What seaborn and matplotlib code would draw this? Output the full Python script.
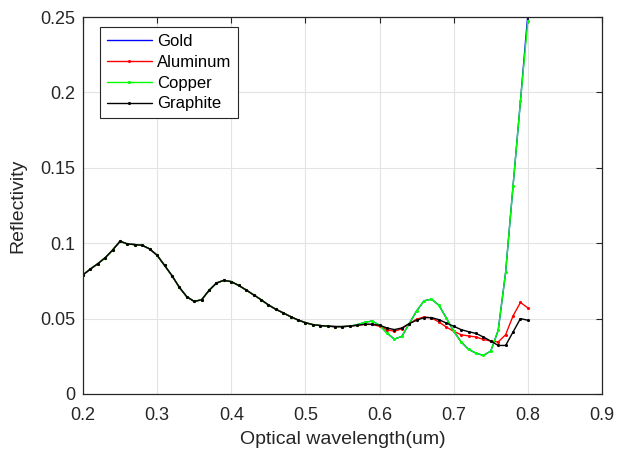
import numpy as np
import pandas as pd
import matplotlib
matplotlib.use("Agg")
import matplotlib.pyplot as plt
import seaborn as sns

# wavelength grid (um)
wavelength = np.round(np.arange(0.20, 0.805, 0.01), 2)

# part shared by all four curves, 0.20 .. 0.56 um
shared = [0.0790, 0.0829, 0.0864, 0.0904, 0.0955, 0.1013, 0.0995, 0.0991, 0.0986, 0.0962,
          0.0920, 0.0853, 0.0785, 0.0707, 0.0645, 0.0614, 0.0625, 0.0687, 0.0736, 0.0754,
          0.0745, 0.0720, 0.0690, 0.0658, 0.0626, 0.0591, 0.0562, 0.0538, 0.0513, 0.0491,
          0.0473, 0.0460, 0.0454, 0.0450, 0.0447, 0.0447, 0.0450]

# 0.57 .. 0.80 um
gold_tail = [0.0460, 0.0475, 0.0484, 0.0456, 0.0404, 0.0364, 0.0382, 0.0467, 0.0551, 0.0618,
             0.0629, 0.0589, 0.0504, 0.0416, 0.0345, 0.0296, 0.0271, 0.0256, 0.0285, 0.0422,
             0.0807, 0.1379, 0.1942, 0.2520]
aluminum_tail = [0.0456, 0.0462, 0.0462, 0.0449, 0.0427, 0.0416, 0.0433, 0.0467, 0.0496, 0.0511,
                 0.0504, 0.0478, 0.0444, 0.0416, 0.0393, 0.0385, 0.0378, 0.0362, 0.0351, 0.0345,
                 0.0393, 0.0518, 0.0607, 0.0571]
copper_tail = [0.0460, 0.0475, 0.0484, 0.0456, 0.0404, 0.0364, 0.0382, 0.0467, 0.0551, 0.0618,
               0.0629, 0.0589, 0.0504, 0.0416, 0.0345, 0.0296, 0.0271, 0.0256, 0.0285, 0.0422,
               0.0807, 0.1379, 0.1942, 0.2474]
graphite_tail = [0.0456, 0.0462, 0.0462, 0.0456, 0.0438, 0.0427, 0.0438, 0.0467, 0.0489, 0.0507,
                 0.0507, 0.0493, 0.0471, 0.0449, 0.0427, 0.0413, 0.0402, 0.0378, 0.0351, 0.0322,
                 0.0322, 0.0411, 0.0500, 0.0489]

materials = ['Gold', 'Aluminum', 'Copper', 'Graphite']
tails = [gold_tail, aluminum_tail, copper_tail, graphite_tail]
colors = ['#0000ff', '#ff0000', '#00ff00', '#000000']
markers = ['', '.', '.', '.']

sns.set_style("white")
plt.rcParams['font.family'] = ['Liberation Sans', 'DejaVu Sans']
text_color = '#262626'

fig = plt.figure(figsize=(6.17, 4.49), dpi=100)
ax = fig.add_axes([0.1345, 0.1225, 0.8412, 0.8395])

for name, tail, color, marker in zip(materials, tails, colors, markers):
    df = pd.DataFrame({'wavelength': wavelength, 'reflectivity': shared + tail})
    sns.lineplot(data=df, x='wavelength', y='reflectivity', ax=ax, color=color,
                 marker=marker if marker else None, markersize=4.5, markeredgewidth=0,
                 linewidth=1.0, label=name)

ax.set_xlim(0.2, 0.9)
ax.set_ylim(0, 0.25)
ax.set_xticks([0.2, 0.3, 0.4, 0.5, 0.6, 0.7, 0.8, 0.9])
ax.set_xticklabels(['0.2', '0.3', '0.4', '0.5', '0.6', '0.7', '0.8', '0.9'])
ax.set_yticks([0, 0.05, 0.1, 0.15, 0.2, 0.25])
ax.set_yticklabels(['0', '0.05', '0.1', '0.15', '0.2', '0.25'])
ax.grid(True, color='#e3e3e3', linewidth=0.8)
ax.tick_params(direction='in', length=4, width=0.8, labelsize=13, colors=text_color,
               top=True, right=True)
ax.tick_params(axis='x', pad=9.5)
ax.tick_params(axis='y', pad=5.5)
for s in ax.spines.values():
    s.set_color(text_color)
    s.set_linewidth(0.9)

ax.set_xlabel('Optical wavelength(um)', fontsize=14, color=text_color, labelpad=5)
ax.set_ylabel('Reflectivity', fontsize=14, color=text_color, labelpad=10)

leg = ax.legend(loc='upper left', bbox_to_anchor=(0.033, 0.973), borderaxespad=0,
                fontsize=12, handlelength=2.7, handletextpad=0.3, labelspacing=0.35,
                fancybox=False, framealpha=1, edgecolor=text_color, borderpad=0.4)
leg.get_frame().set_linewidth(0.8)
for t in leg.get_texts():
    t.set_color('black')

fig.savefig('out.png', dpi=100)
